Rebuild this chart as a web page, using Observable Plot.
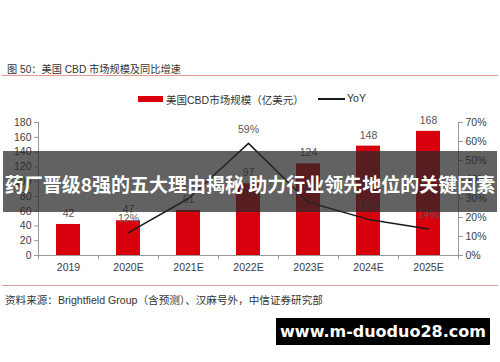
<!DOCTYPE html>
<html><head><meta charset="utf-8">
<script src="https://cdn.jsdelivr.net/npm/d3@7"></script>
<script src="https://cdn.jsdelivr.net/npm/@observablehq/plot@0.6"></script>
<style>
html,body{margin:0;padding:0;background:#fff;}
#wrap{position:relative;width:500px;height:362px;overflow:hidden;font-family:"Liberation Sans",Arial,"Noto Sans CJK SC",sans-serif;color:#333;}
.abs{position:absolute;white-space:nowrap;}
#chart{position:absolute;left:0;top:105px;}
</style></head>
<body><div id="wrap">
<div class="abs" style="left:7px;top:61px;font-size:10.2px;color:#333;">图 50：美国 CBD 市场规模及同比增速</div>
<div class="abs" style="left:2px;top:75px;width:496px;height:1px;background:#e59a9a;"></div>
<div class="abs" style="left:138px;top:96px;width:25px;height:6px;background:#d9000d;"></div>
<div class="abs" style="left:166px;top:92px;font-size:10.5px;color:#333;">美国CBD市场规模（亿美元）</div>
<div class="abs" style="left:318px;top:98px;width:27px;height:1.5px;background:#1a1a1a;"></div>
<div class="abs" style="left:347px;top:92px;font-size:10.5px;color:#333;">YoY</div>
<div id="chart"></div>
<div class="abs" style="left:2px;top:285px;width:496px;height:1px;background:#e59a9a;"></div>
<div class="abs" style="left:5px;top:292px;font-size:10.6px;color:#333;">资料来源：Brightfield Group（含预测）、汉麻号外，中信证券研究部</div>
<div class="abs" style="left:3px;top:151px;width:494px;height:61px;background:rgba(40,40,40,0.73);"></div>
<div class="abs" style="left:0px;top:169px;width:500px;text-align:center;font-family:'Noto Sans CJK SC',sans-serif;font-weight:bold;font-size:19px;line-height:30px;color:#fff;">药厂晋级8强的五大理由揭秘 助力行业领先地位的关键因素</div>
<div class="abs" style="left:276px;top:318px;width:214px;height:27px;background:#000;color:#fff;font-family:'DejaVu Sans',sans-serif;font-weight:bold;font-size:16px;line-height:27px;text-align:center;">www.m-duoduo28.com</div>
</div>
<script>
const years = ["2019","2020E","2021E","2022E","2023E","2024E","2025E"];
const marketSize = [42, 47, 61, 97, 124, 148, 168];
const yoyYears = ["2020E","2021E","2022E","2023E","2024E","2025E"];
const yoyValues = [12, 30, 59, 28, 19, 14];
const leftTicks = [0,20,40,60,80,100,120,140,160,180];
const rightTicks = [0,10,20,30,40,50,60,70];

const leftMax = 180, rightMax = 70;
const toLeft = v => v * leftMax / rightMax;
const bars = years.map((y,i)=>({year:y, value:marketSize[i]}));
const yoy = yoyYears.map((y,i)=>({year:y, yoy:yoyValues[i], yv:toLeft(yoyValues[i])}));

const plot = Plot.plot({
  width: 500, height: 180,
  marginTop: 17, marginBottom: 30, marginLeft: 38, marginRight: 42,
  style: {fontFamily: '"Liberation Sans", Arial, sans-serif', fontSize: "10.5px", color: "#404040", background: "transparent"},
  x: {domain: years, paddingInner: 0.6, paddingOuter: 0.3, align: 0.5},
  y: {domain: [0, leftMax]},
  marks: [
    Plot.barY(bars, {x: "year", y: "value", fill: "#d9000d"}),
    Plot.ruleY([0], {stroke: "#999", strokeWidth: 1}),
    Plot.ruleX([years[0]], {dx: -30, y1: 0, y2: leftMax, stroke: "#999"}),
    Plot.ruleX([years[years.length-1]], {dx: 30, y1: 0, y2: leftMax, stroke: "#999"}),
    Plot.ruleX(years, {dx: -30, y1: 0, y2: -5.5, stroke: "#999"}),
    Plot.ruleX([years[years.length-1]], {dx: 30, y1: 0, y2: -5.5, stroke: "#999"}),
    Plot.axisY({ticks: leftTicks, tickSize: 4, tickPadding: 3, stroke: "#999", fill: "#404040", label: null}),
    Plot.axisY({anchor: "right", ticks: rightTicks.map(toLeft), tickFormat: d => Math.round(d*rightMax/leftMax) + "%", tickSize: 4, tickPadding: 3, stroke: "#999", fill: "#404040", label: null}),
    Plot.axisX({tickSize: 0, tickPadding: 8, fill: "#404040", label: null}),
    Plot.text(bars, {x: "year", y: "value", text: d => String(d.value), dy: -11, fill: "#595959", fontSize: 10.5}),
    Plot.line(yoy, {x: "year", y: "yv", stroke: "#1a1a1a", strokeWidth: 1.5}),
    Plot.text(yoy, {x: "year", y: "yv", text: d => d.yoy + "%", dy: -14, fill: "#595959", fontSize: 10.5})
  ]
});
document.getElementById("chart").appendChild(plot);
</script>
</body></html>
